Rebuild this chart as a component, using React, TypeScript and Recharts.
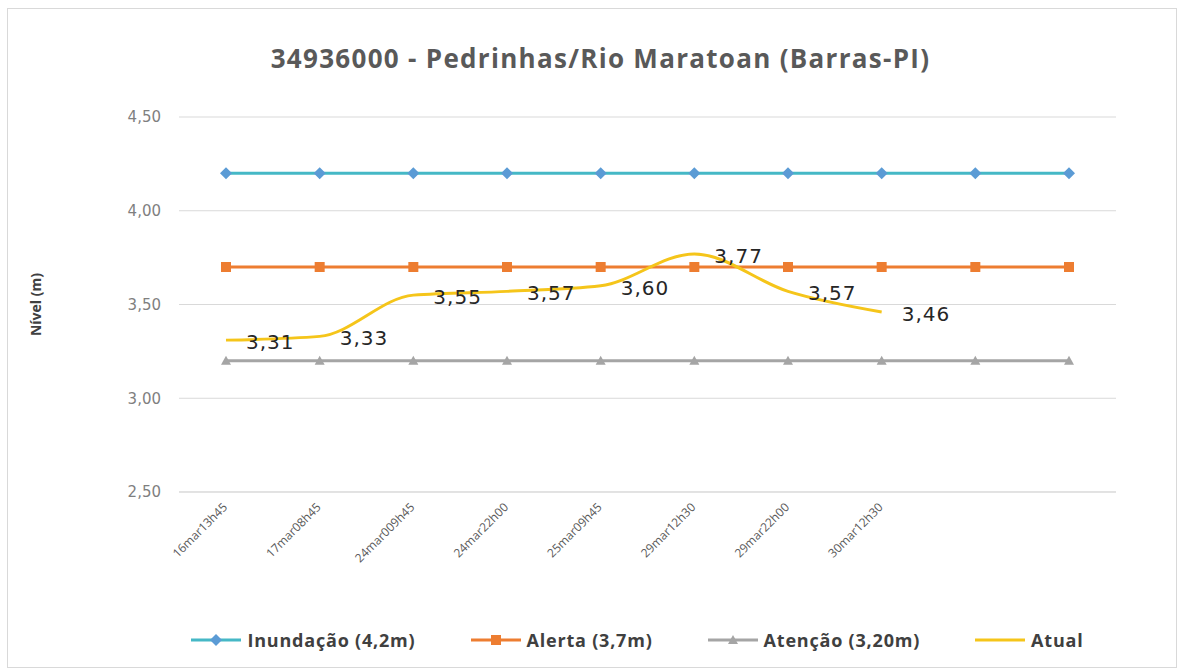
import {
  CartesianGrid,
  LabelList,
  Legend,
  Line,
  LineChart,
  XAxis,
  YAxis
} from "recharts";

const categories = [
  "16mar13h45",
  "17mar08h45",
  "24mar009h45",
  "24mar22h00",
  "25mar09h45",
  "29mar12h30",
  "29mar22h00",
  "30mar12h30",
  "",
  ""
];

const inundacao = [4.2, 4.2, 4.2, 4.2, 4.2, 4.2, 4.2, 4.2, 4.2, 4.2];
const alerta = [3.7, 3.7, 3.7, 3.7, 3.7, 3.7, 3.7, 3.7, 3.7, 3.7];
const atencao = [3.2, 3.2, 3.2, 3.2, 3.2, 3.2, 3.2, 3.2, 3.2, 3.2];
const atual = [3.31, 3.33, 3.55, 3.57, 3.6, 3.77, 3.57, 3.46, null, null];

const yTicks = [2.5, 3.0, 3.5, 4.0, 4.5];

const data = categories.map((cat, i) => ({
  cat,
  inundacao: inundacao[i],
  alerta: alerta[i],
  atencao: atencao[i],
  atual: atual[i]
}));

const fmt = (v: number) => v.toFixed(2).replace(".", ",");

const COLORS = {
  inundacaoLine: "#45b8c6",
  inundacaoDot: "#5b9bd5",
  alerta: "#ed7d31",
  atencao: "#a5a5a5",
  atual: "#f5c51a"
};

const Diamond = ({ cx, cy }: any) =>
  cx == null ? null : (
    <path d={`M${cx} ${cy - 6}L${cx + 6} ${cy}L${cx} ${cy + 6}L${cx - 6} ${cy}Z`} fill={COLORS.inundacaoDot} />
  );

const Square = ({ cx, cy }: any) =>
  cx == null ? null : <rect x={cx - 5} y={cy - 5} width={10} height={10} fill={COLORS.alerta} />;

const Triangle = ({ cx, cy }: any) =>
  cx == null ? null : (
    <path d={`M${cx} ${cy - 5}L${cx + 5} ${cy + 4}L${cx - 5} ${cy + 4}Z`} fill={COLORS.atencao} />
  );

const XTick = ({ x, y, payload }: any) => (
  <text
    x={x + 2}
    y={y + 8}
    transform={`rotate(-45 ${x + 2} ${y + 8})`}
    textAnchor="end"
    fontSize={12}
    fill="#595959"
    fontFamily="'Open Sans', sans-serif"
  >
    {payload.value}
  </text>
);

const ValueLabel = ({ x, y, value }: any) =>
  value == null ? null : (
    <text
      x={x + 20}
      y={y + 2}
      dominantBaseline="central"
      fontSize={20}
      letterSpacing={1}
      fill="#262626"
      fontFamily="'DejaVu Sans', sans-serif"
    >
      {fmt(value)}
    </text>
  );

const legendItems = [
  { label: "Inundação (4,2m)", color: COLORS.inundacaoLine, marker: "diamond" },
  { label: "Alerta (3,7m)", color: COLORS.alerta, marker: "square" },
  { label: "Atenção (3,20m)", color: COLORS.atencao, marker: "triangle" },
  { label: "Atual", color: COLORS.atual, marker: "none" }
];

const LegendContent = () => (
  <div
    style={{
      display: "flex",
      justifyContent: "center",
      alignItems: "center",
      gap: 55,
      paddingLeft: 94,
      fontFamily: "'Open Sans', sans-serif",
      fontWeight: 700,
      fontSize: 18,
      letterSpacing: 0.8,
      color: "#404040"
    }}
  >
    {legendItems.map((item) => (
      <div key={item.label} style={{ display: "flex", alignItems: "center", gap: 6 }}>
        <svg width={50} height={14}>
          <line x1={0} y1={7} x2={50} y2={7} stroke={item.color} strokeWidth={3} />
          {item.marker === "diamond" && <path d="M25 1L31 7L25 13L19 7Z" fill={COLORS.inundacaoDot} />}
          {item.marker === "square" && <rect x={20} y={2} width={10} height={10} fill={COLORS.alerta} />}
          {item.marker === "triangle" && <path d="M25 2L30 11L20 11Z" fill={COLORS.atencao} />}
        </svg>
        <span>{item.label}</span>
      </div>
    ))}
  </div>
);

const App = () => {
  return (
    <div style={{ position: "absolute", left: 0, top: 0, width: 1181, height: 670, background: "#fff" }}>
      <div
        style={{
          position: "absolute",
          left: 7,
          top: 8,
          width: 1168,
          height: 658,
          border: "1px solid #d9d9d9"
        }}
      />
      <div
        style={{
          position: "absolute",
          left: 10,
          top: 40,
          width: 1181,
          textAlign: "center",
          fontFamily: "'Open Sans', sans-serif",
          fontWeight: 700,
          fontSize: 26,
          letterSpacing: 1.3,
          color: "#595959"
        }}
      >
        34936000 - Pedrinhas/Rio Maratoan (Barras-PI)
      </div>
      <LineChart
        width={1181}
        height={670}
        data={data}
        margin={{ top: 117, right: 65, left: 119, bottom: 20 }}
        style={{ position: "absolute", left: 0, top: 0 }}
      >
        <CartesianGrid stroke="#d9d9d9" vertical={false} />
        <XAxis
          dataKey="cat"
          height={128}
          interval={0}
          padding={{ left: 47, right: 47 }}
          tickLine={false}
          axisLine={{ stroke: "#d9d9d9" }}
          tick={<XTick />}
        />
        <YAxis
          width={60}
          domain={[2.5, 4.5]}
          ticks={yTicks}
          tickFormatter={fmt}
          tickLine={false}
          axisLine={false}
          tickMargin={12}
          tick={{ fill: "#7f7f7f", fontSize: 15, fontFamily: "'DejaVu Sans', sans-serif" }}
          label={{
            value: "Nível (m)",
            angle: -90,
            position: "left",
            offset: 83,
            style: { fill: "#404040", fontSize: 14, fontWeight: 700, fontFamily: "'Open Sans', sans-serif", textAnchor: "middle" }
          }}
        />
        <Legend
          verticalAlign="bottom"
          height={30}
          content={<LegendContent />}
          wrapperStyle={{ left: 0, width: 1181, bottom: 12 }}
        />
        <Line
          dataKey="inundacao"
          name="Inundação (4,2m)"
          stroke={COLORS.inundacaoLine}
          strokeWidth={3}
          dot={<Diamond />}
          isAnimationActive={false}
        />
        <Line
          dataKey="alerta"
          name="Alerta (3,7m)"
          stroke={COLORS.alerta}
          strokeWidth={3}
          dot={<Square />}
          isAnimationActive={false}
        />
        <Line
          dataKey="atencao"
          name="Atenção (3,20m)"
          stroke={COLORS.atencao}
          strokeWidth={3}
          dot={<Triangle />}
          isAnimationActive={false}
        />
        <Line
          dataKey="atual"
          name="Atual"
          type="monotone"
          stroke={COLORS.atual}
          strokeWidth={3}
          dot={false}
          isAnimationActive={false}
        >
          <LabelList dataKey="atual" content={<ValueLabel />} />
        </Line>
      </LineChart>
    </div>
  );
};

export default App;
